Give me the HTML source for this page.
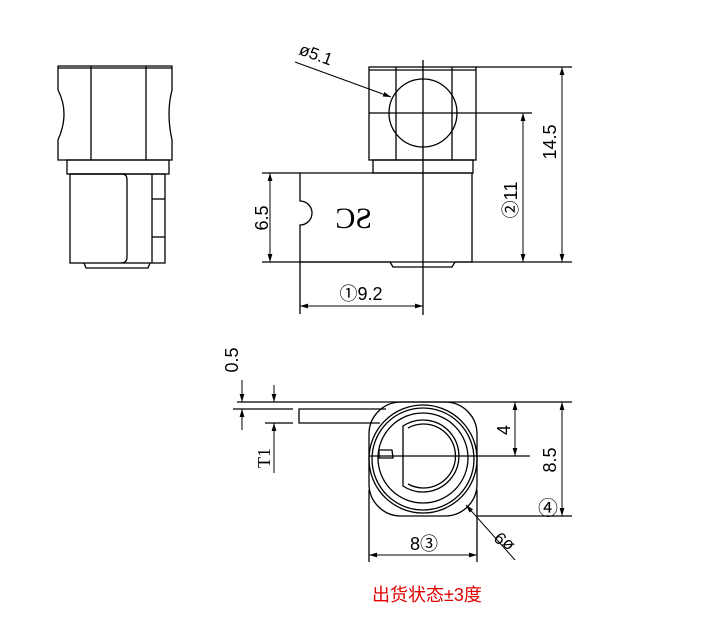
<!DOCTYPE html>
<html><head><meta charset="utf-8"><style>
html,body{margin:0;padding:0;background:#fff;width:720px;height:622px;overflow:hidden}
svg{display:block}
text{font-family:"Liberation Sans","Noto Sans CJK SC",sans-serif;fill:#000}
</style></head><body>
<svg width="720" height="622" viewBox="0 0 720 622" xmlns="http://www.w3.org/2000/svg">
<defs>
<marker id="a" viewBox="0 0 10 6" refX="10" refY="3" markerWidth="8" markerHeight="5" orient="auto-start-reverse"><path d="M0,0 L10,3 L0,6 z" fill="#000"/></marker>
</defs>
<g fill="none" stroke="#000" stroke-width="1.3">
<!-- LEFT VIEW -->
<path d="M58,66 L172,66 L172,90 Q166,113 172,140 L172,160 L58,160 L58,140 Q70,113 58,90 Z"/>
<line x1="91" y1="66" x2="91" y2="160"/><line x1="146" y1="66" x2="146" y2="160"/>
<line x1="58" y1="68" x2="172" y2="68"/>
<rect x="67" y="160" width="102" height="14"/>
<rect x="70" y="174" width="95" height="89"/>
<path d="M70,174 L122,174 Q127,174 127,180 L127,257 Q127,263 121,263"/>
<line x1="152" y1="174" x2="152" y2="263"/>
<line x1="152" y1="199" x2="165" y2="199"/><line x1="152" y1="237" x2="165" y2="237"/>
<path d="M84,263 L86,268 L148,268 L150,263"/>
<!-- MIDDLE VIEW -->
<rect x="369" y="67" width="107" height="93"/>
<line x1="369" y1="70" x2="476" y2="70"/>
<line x1="396" y1="67" x2="396" y2="160"/><line x1="452" y1="67" x2="452" y2="160"/>
<line x1="369" y1="113" x2="476" y2="113"/>
<circle cx="423" cy="113" r="34"/>
<rect x="373" y="160" width="100" height="13"/>
<path d="M300,173 L472,173 L472,262 L300,262 L300,225 A12,12 0 0 0 300,201 Z"/>
<path d="M390,262 L393,267 L452,267 L455,262"/>
<line x1="423" y1="60" x2="423" y2="315"/>
<line x1="262" y1="173" x2="300" y2="173"/><line x1="262" y1="262" x2="390" y2="262"/>
<line x1="476" y1="67" x2="572" y2="67"/><line x1="476" y1="113" x2="532" y2="113"/>
<line x1="455" y1="262" x2="572" y2="262"/>
<line x1="270" y1="173" x2="270" y2="262" marker-start="url(#a)" marker-end="url(#a)" stroke-width="1"/>
<line x1="562" y1="67" x2="562" y2="262" marker-start="url(#a)" marker-end="url(#a)" stroke-width="1"/>
<line x1="523" y1="113" x2="523" y2="262" marker-start="url(#a)" marker-end="url(#a)" stroke-width="1"/>
<line x1="300" y1="262" x2="300" y2="314"/>
<line x1="300" y1="306" x2="423" y2="306" marker-start="url(#a)" marker-end="url(#a)" stroke-width="1"/>
<line x1="295" y1="62" x2="391" y2="97" marker-end="url(#a)" stroke-width="1"/>
<!-- BOTTOM VIEW -->
<line x1="237" y1="402" x2="572" y2="402"/>
<line x1="233" y1="409" x2="293" y2="409"/>
<line x1="265" y1="423" x2="293" y2="423"/>
<path d="M386,409 L299,409 L299,423 L380,423"/>
<line x1="242" y1="380" x2="242" y2="402" marker-end="url(#a)" stroke-width="1"/>
<line x1="242" y1="430" x2="242" y2="409" marker-end="url(#a)" stroke-width="1"/>
<line x1="274" y1="385" x2="274" y2="402" marker-end="url(#a)" stroke-width="1"/>
<line x1="274" y1="473" x2="274" y2="423" marker-end="url(#a)" stroke-width="1"/>
<rect x="369" y="402" width="108" height="114" rx="32"/>
<circle cx="423" cy="459" r="54"/>
<circle cx="423" cy="459" r="51"/>
<circle cx="423" cy="458" r="45"/>
<path d="M403,426 A36,36 0 1 1 403,486 Z"/>
<path d="M408,428 A32,32 0 1 1 408,484"/>
<path d="M379,450 L392,450 L393,458 L379,458 Z"/>
<line x1="369" y1="456" x2="530" y2="456"/>
<line x1="477" y1="516" x2="572" y2="516"/>
<line x1="515" y1="402" x2="515" y2="456" marker-start="url(#a)" marker-end="url(#a)" stroke-width="1"/>
<line x1="562" y1="402" x2="562" y2="516" marker-start="url(#a)" marker-end="url(#a)" stroke-width="1"/>
<line x1="369" y1="490" x2="369" y2="562"/><line x1="477" y1="490" x2="477" y2="562"/>
<line x1="369" y1="555" x2="477" y2="555" marker-start="url(#a)" marker-end="url(#a)" stroke-width="1"/>
<line x1="515" y1="560" x2="466" y2="505" marker-end="url(#a)" stroke-width="1"/>
</g>
<!-- TEXT -->
<text style="font-family:'Liberation Serif',serif" font-size="30" transform="translate(372,228) scale(-1,1)">SC</text>
<text font-size="18" transform="translate(268,218) rotate(-90)" text-anchor="middle">6.5</text>
<text font-size="18" transform="translate(556,142) rotate(-90)" text-anchor="middle">14.5</text>
<text font-size="18" transform="translate(517,200) rotate(-90)" text-anchor="middle">②11</text>
<text font-size="18" x="361" y="300" text-anchor="middle">①9.2</text>
<text font-size="17" transform="translate(298,54) rotate(20)">ø5.1</text>
<text font-size="18" transform="translate(238,360) rotate(-90)" text-anchor="middle">0.5</text>
<text style="font-family:'Liberation Serif',serif" font-size="18" transform="translate(270,458) rotate(-90)" text-anchor="middle">T1</text>
<text font-size="18" transform="translate(510,430) rotate(-90)" text-anchor="middle">4</text>
<text font-size="18" transform="translate(556,460) rotate(-90)" text-anchor="middle">8.5</text>
<text font-size="20" x="548" y="515" text-anchor="middle">④</text>
<text font-size="18" x="424" y="550" text-anchor="middle">8③</text>
<text font-size="17" transform="translate(508,538) rotate(225)" text-anchor="middle">ø9</text>
<text font-size="18" x="427" y="601" text-anchor="middle" style="fill:#e00000">出货状态±3度</text>
</svg>
</body></html>
